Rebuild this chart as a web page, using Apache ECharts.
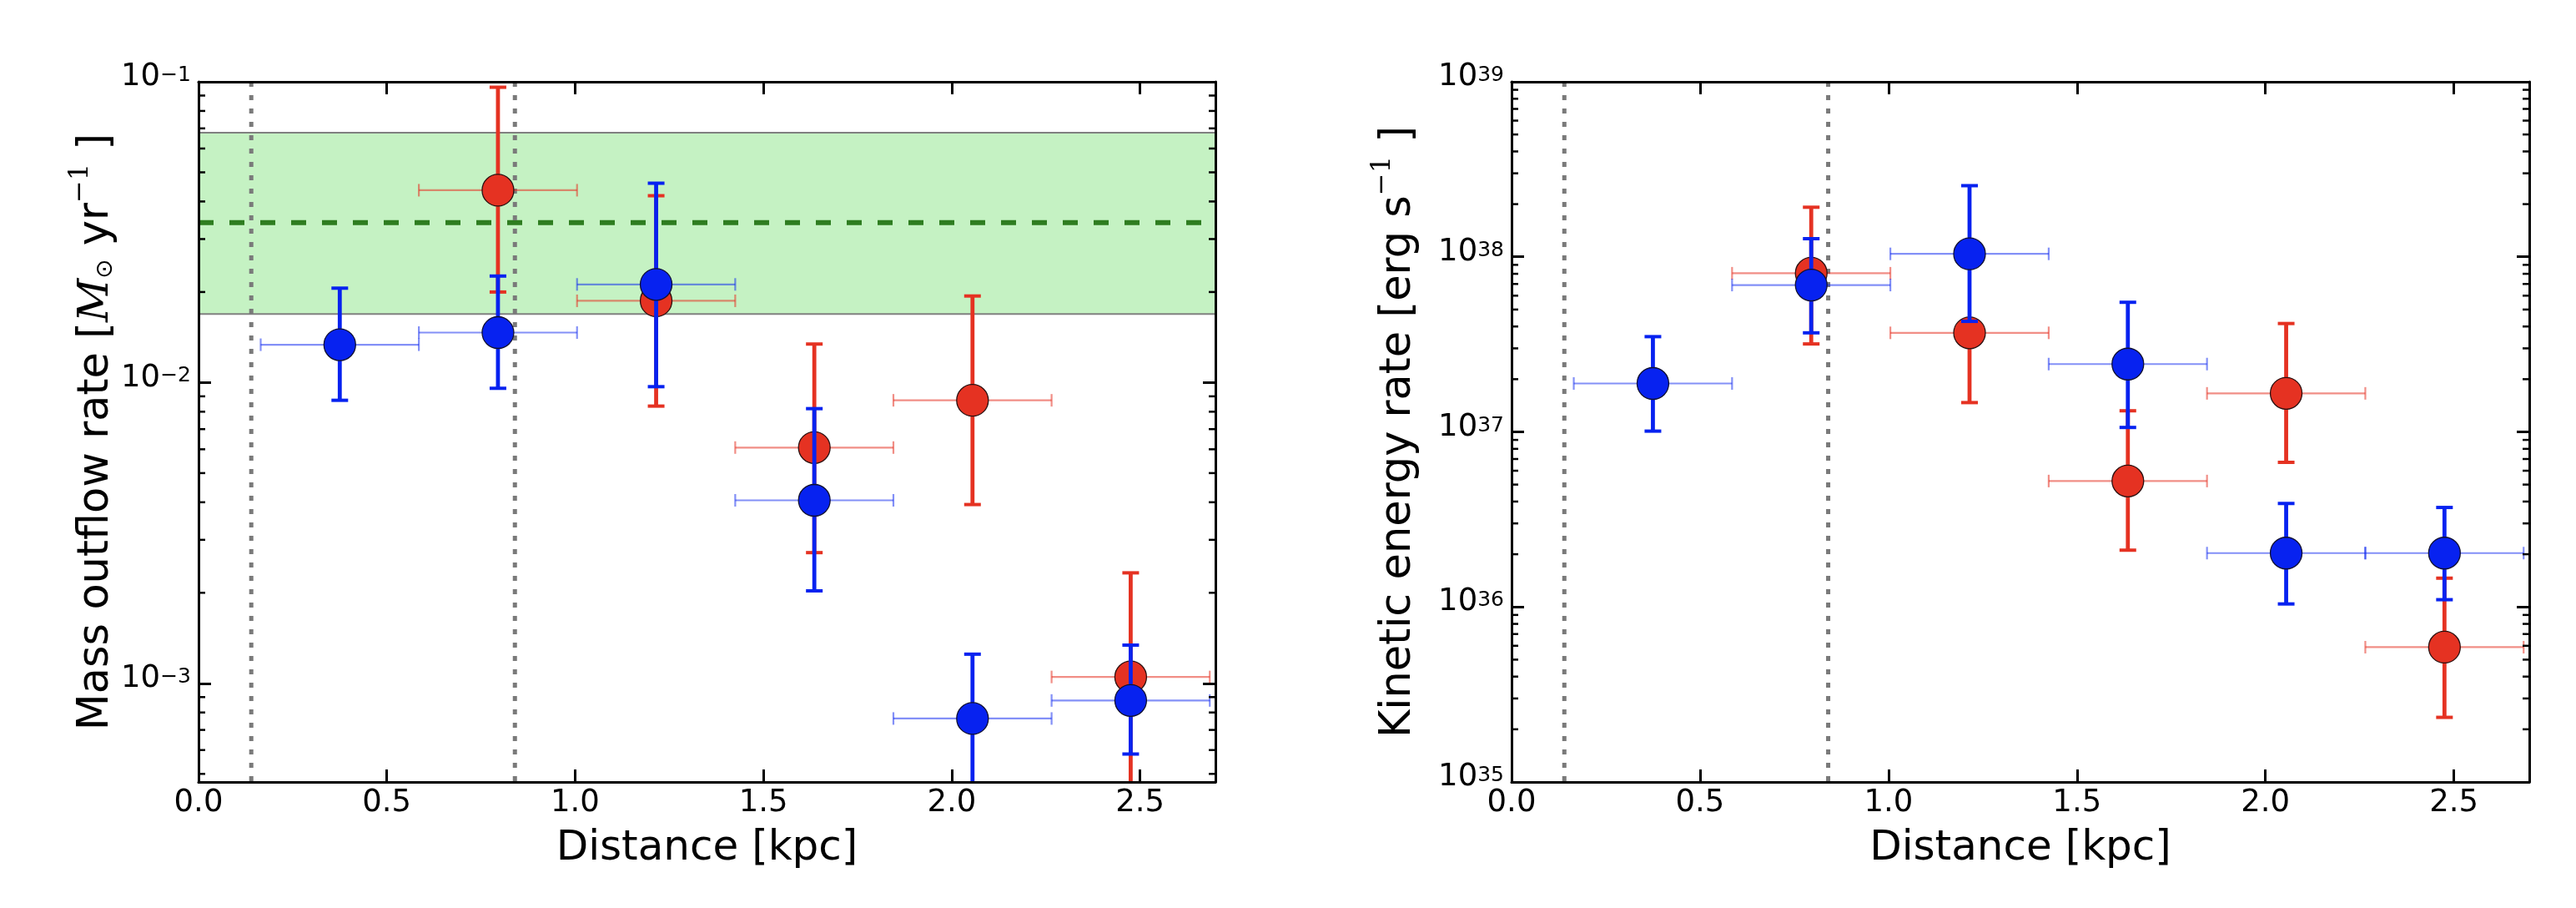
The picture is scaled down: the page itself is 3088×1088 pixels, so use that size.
<!DOCTYPE html>
<html><head><meta charset="utf-8">
<script src="https://cdn.jsdelivr.net/npm/echarts@6/dist/echarts.min.js"></script>
<style>html,body{margin:0;padding:0;background:#fff}#c{width:3088px;height:1088px}</style>
</head><body><div id="c"></div>
<script>
// ---------- DATA ----------
const xCenters = [0.375, 0.795, 1.215, 1.635, 2.055, 2.475];
const xHalfWidth = 0.21;
const redX = [0.795, 1.215, 1.635, 2.055, 2.475];

// Left panel: mass outflow rate [Msun/yr]
const massBlue   = [0.01336, 0.01466, 0.0212, 0.00406, 0.000764, 0.000877];
const massBlueLo = [0.00873, 0.00957, 0.00969, 0.00203, 0.0003, 0.000582];
const massBlueHi = [0.0206, 0.0226, 0.046, 0.00819, 0.00125, 0.00134];
const massRed    = [0.0436, 0.0187, 0.00608, 0.00873, 0.00105];
const massRedLo  = [0.0200, 0.00835, 0.00272, 0.00393, 0.0003];
const massRedHi  = [0.0959, 0.0418, 0.01343, 0.0194, 0.00233];
const bandLow = 0.0169, bandMean = 0.034, bandHigh = 0.0677;

// Right panel: kinetic energy rate [erg/s]
const keBlue   = [1.89e37, 6.9e37, 1.04e38, 2.44e37, 2.03e36, 2.03e36];
const keBlueLo = [1.01e37, 3.68e37, 4.28e37, 1.06e37, 1.04e36, 1.1e36];
const keBlueHi = [3.5e37, 1.27e38, 2.55e38, 5.5e37, 3.9e36, 3.7e36];
const keRed    = [8.06e37, 3.68e37, 5.24e36, 1.66e37, 5.89e35];
const keRedLo  = [3.18e37, 1.47e37, 2.11e36, 6.7e36, 2.34e35];
const keRedHi  = [1.92e38, 4.3e37, 1.32e37, 4.16e37, 1.46e36];

const dottedX = [0.14, 0.84];
const xTickLabels = ['0.0', '0.5', '1.0', '1.5', '2.0', '2.5'];
const leftDecades = [-4, -3, -2];
const rightDecades = [35, 36, 37, 38];
const minorMult = [2, 3, 4, 5, 6, 7, 8, 9];

// ---------- STYLE ----------
const RED = '#e53222', BLUE = '#0722f0';
const RED_X = 'rgba(229,50,34,0.55)', BLUE_X = 'rgba(7,34,240,0.5)';
const FONT = 'DejaVu Sans';
const xMin = 0, xMax = 2.7;
const yMinL = Math.pow(10, -3.328), yMaxL = 0.1;
const yMinR = 1e35, yMaxR = 1e39;

function errRows(xs, ys, lo, hi) {
  return xs.map((x, i) => [x, ys[i], lo[i], hi[i], x - xHalfWidth, x + xHalfWidth]);
}
function errRender(color, xColor) {
  return function (params, api) {
    const cs = params.coordSys;
    const x = api.value(0), y = api.value(1);
    const pc = api.coord([x, y]);
    const pLo = api.coord([x, api.value(2)]);
    const pHi = api.coord([x, api.value(3)]);
    const pXl = api.coord([api.value(4), y]);
    const pXh = api.coord([api.value(5), y]);
    const ln = (x1, y1, x2, y2, c, w) => ({type: 'line', shape: {x1, y1, x2, y2}, style: {stroke: c, lineWidth: w}});
    return {
      type: 'group',
      clipPath: {type: 'rect', shape: {x: cs.x, y: cs.y, width: cs.width, height: cs.height}},
      children: [
        ln(pXl[0], pc[1], pXh[0], pc[1], xColor, 2.2),
        ln(pXl[0], pc[1] - 7.5, pXl[0], pc[1] + 7.5, xColor, 2.2),
        ln(pXh[0], pc[1] - 7.5, pXh[0], pc[1] + 7.5, xColor, 2.2),
        ln(pc[0], pLo[1], pc[0], pHi[1], color, 4.8),
        ln(pc[0] - 10, pLo[1], pc[0] + 10, pLo[1], color, 4),
        ln(pc[0] - 10, pHi[1], pc[0] + 10, pHi[1], color, 4)
      ]
    };
  };
}
function vlineRender(params, api) {
  const cs = params.coordSys;
  const px = api.coord([api.value(0), api.value(1)])[0];
  return {type: 'line', shape: {x1: px, y1: cs.y, x2: px, y2: cs.y + cs.height},
    style: {stroke: '#7a7a7a', lineWidth: 5, lineDash: [6, 10]}};
}
function bandRender(params, api) {
  const cs = params.coordSys;
  const yl = api.coord([xMin, api.value(0)])[1];
  const ym = api.coord([xMin, api.value(1)])[1];
  const yh = api.coord([xMin, api.value(2)])[1];
  return {type: 'group', children: [
    {type: 'rect', shape: {x: cs.x, y: yh, width: cs.width, height: yl - yh}, style: {fill: '#c5f2c3'}},
    {type: 'line', shape: {x1: cs.x, y1: yh, x2: cs.x + cs.width, y2: yh}, style: {stroke: '#808080', lineWidth: 2}},
    {type: 'line', shape: {x1: cs.x, y1: yl, x2: cs.x + cs.width, y2: yl}, style: {stroke: '#808080', lineWidth: 2}},
    {type: 'line', shape: {x1: cs.x, y1: ym, x2: cs.x + cs.width, y2: ym}, style: {stroke: '#2e7d20', lineWidth: 6, lineDash: [18, 19]}}
  ]};
}
function minorRender(params, api) {
  const cs = params.coordSys;
  const y = api.coord([api.value(0), api.value(1)])[1];
  return {type: 'group', children: [
    {type: 'line', shape: {x1: cs.x, y1: y, x2: cs.x + 8, y2: y}, style: {stroke: '#000', lineWidth: 2.5}},
    {type: 'line', shape: {x1: cs.x + cs.width - 8, y1: y, x2: cs.x + cs.width, y2: y}, style: {stroke: '#000', lineWidth: 2.5}}
  ]};
}
function minorRows(decades, lo, hi) {
  const rows = [];
  decades.forEach(d => minorMult.forEach(m => {
    const v = m * Math.pow(10, d);
    if (v >= lo && v <= hi) rows.push([xMin, v]);
  }));
  return rows;
}

const SUP = {b: {fontSize: 37, fontFamily: FONT, color: '#000', lineHeight: 40, padding: [7, 0, 7, 0], verticalAlign: 'bottom'},
             s: {fontSize: 25, fontFamily: FONT, color: '#000', lineHeight: 26, verticalAlign: 'top'}};
function logLabel(v) {
  const e = Math.log10(v);
  const r = Math.round(e);
  if (Math.abs(e - r) > 1e-6) return '';
  return '{b|10}{s|' + String(r).replace('-', '\u2212') + '}';
}
function xLabel(v) {
  const i = Math.round(v / 0.5);
  if (Math.abs(v / 0.5 - i) > 1e-6 || i < 0 || i >= xTickLabels.length) return '';
  return xTickLabels[i];
}
const axLine = {show: true, onZero: false, lineStyle: {color: '#000', width: 3}};
const axTick = {show: true, inside: true, length: 15, lineStyle: {color: '#000', width: 3}};

function xAxes(gi) {
  return [
    {type: 'value', gridIndex: gi, position: 'bottom', min: xMin, max: xMax, interval: 0.5, z: 10,
     axisLine: axLine, axisTick: axTick, splitLine: {show: false},
     axisLabel: {formatter: xLabel, fontSize: 37, fontFamily: FONT, color: '#000', margin: 7},
     name: 'Distance [kpc]', nameLocation: 'middle', nameGap: 55,
     nameTextStyle: {fontSize: 50, fontFamily: FONT, color: '#000'}},
    {type: 'value', gridIndex: gi, position: 'top', min: xMin, max: xMax, interval: 0.5, z: 10,
     axisLine: axLine, axisTick: axTick, splitLine: {show: false}, axisLabel: {show: false}}
  ];
}
function yAxes(gi, mn, mx, name, nameGap, rich) {
  return [
    {type: 'log', logBase: 10, gridIndex: gi, position: 'left', min: mn, max: mx, z: 10,
     axisLine: axLine, axisTick: axTick, splitLine: {show: false},
     axisLabel: {formatter: logLabel, fontSize: 37, fontFamily: FONT, color: '#000', margin: 9, rich: SUP},
     name: name, nameLocation: 'middle', nameGap: nameGap, nameRotate: 90,
     nameTextStyle: {fontSize: 51, fontFamily: FONT, color: '#000', rich: rich}},
    {type: 'log', logBase: 10, gridIndex: gi, position: 'right', min: mn, max: mx, z: 10,
     axisLine: axLine, axisTick: axTick, splitLine: {show: false}, axisLabel: {show: false}}
  ];
}
const nameRich = {
  t: {fontSize: 51, fontFamily: FONT, color: '#000', lineHeight: 60, verticalAlign: 'bottom'},
  m: {fontSize: 51, fontFamily: 'DejaVu Serif', fontStyle: 'italic', color: '#000', lineHeight: 60, verticalAlign: 'bottom'},
  o: {fontSize: 28, fontFamily: FONT, color: '#000', lineHeight: 36, verticalAlign: 'bottom'},
  s: {fontSize: 32, fontFamily: 'DejaVu Serif', color: '#000', lineHeight: 26, verticalAlign: 'top'}
};

function panelSeries(xi, yi, blueRows, redRows, extra) {
  return extra.concat([
    {type: 'custom', xAxisIndex: xi, yAxisIndex: yi, z: 2, silent: true, clip: true,
     data: dottedX.map(v => [v, yi === 0 ? bandMean : keBlue[0]]), renderItem: vlineRender},
    {type: 'custom', xAxisIndex: xi, yAxisIndex: yi, z: 3, silent: true, clip: true,
     data: redRows, renderItem: errRender(RED, RED_X)},
    {type: 'scatter', xAxisIndex: xi, yAxisIndex: yi, z: 4, silent: true, symbol: 'circle', symbolSize: 38,
     itemStyle: {color: RED, borderColor: '#2a1010', borderWidth: 1.3, opacity: 1},
     data: redRows.map(r => [r[0], r[1]])},
    {type: 'custom', xAxisIndex: xi, yAxisIndex: yi, z: 5, silent: true, clip: true,
     data: blueRows, renderItem: errRender(BLUE, BLUE_X)},
    {type: 'scatter', xAxisIndex: xi, yAxisIndex: yi, z: 6, silent: true, symbol: 'circle', symbolSize: 38,
     itemStyle: {color: BLUE, borderColor: '#101030', borderWidth: 1.3, opacity: 1},
     data: blueRows.map(r => [r[0], r[1]])},
    {type: 'custom', xAxisIndex: xi, yAxisIndex: yi, z: 7, silent: true, clip: true,
     data: minorRows(yi === 0 ? leftDecades : rightDecades, yi === 0 ? yMinL : yMinR, yi === 0 ? yMaxL : yMaxR),
     renderItem: minorRender}
  ]);
}

const chart = echarts.init(document.getElementById('c'), null, {renderer: 'canvas'});
chart.setOption({
  animation: false,
  backgroundColor: '#fff',
  textStyle: {fontFamily: FONT},
  grid: [
    {left: 238, top: 98, width: 1219, height: 839, containLabel: false, outerBoundsMode: 'none'},
    {left: 1812, top: 98, width: 1220, height: 839, containLabel: false, outerBoundsMode: 'none'}
  ],
  xAxis: xAxes(0).concat(xAxes(1)),
  yAxis: yAxes(0, yMinL, yMaxL, '{t|Mass outflow rate [}{m|M}{o|\u2299}{t| yr}{s|\u22121}{t| ]}', 94, nameRich)
    .concat(yAxes(1, yMinR, yMaxR, '{t|Kinetic energy rate [erg s}{s|\u22121}{t| ]}', 110, nameRich)),
  series: panelSeries(0, 0, errRows(xCenters, massBlue, massBlueLo, massBlueHi),
                      errRows(redX, massRed, massRedLo, massRedHi),
                      [{type: 'custom', xAxisIndex: 0, yAxisIndex: 0, z: 1, silent: true, clip: true,
                        data: [[bandLow, bandMean, bandHigh]], renderItem: bandRender}])
    .concat(panelSeries(2, 2, errRows(xCenters, keBlue, keBlueLo, keBlueHi),
                        errRows(redX, keRed, keRedLo, keRedHi), []))
});
</script></body></html>
